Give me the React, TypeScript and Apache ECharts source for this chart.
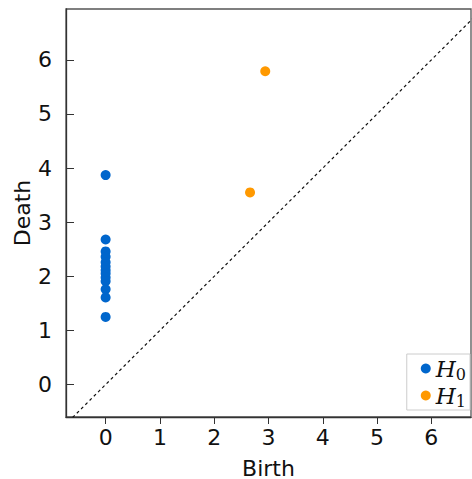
import React, { useEffect, useRef } from "react";
import * as echarts from "echarts";

const h0Births = [0, 0, 0, 0, 0, 0, 0, 0, 0, 0, 0, 0, 0];
const h0Deaths = [3.87, 2.68, 2.46, 2.36, 2.26, 2.18, 2.11, 2.05, 1.98, 1.91, 1.76, 1.61, 1.25];
const h1Births = [2.66, 2.94];
const h1Deaths = [3.55, 5.79];
const tickValues = [0, 1, 2, 3, 4, 5, 6];
const diagonal = [-1, 8];

const FONT = "DejaVu Sans";

export default function App() {
  const ref = useRef<HTMLDivElement>(null);
  useEffect(() => {
    if (!ref.current) return;
    const chart = echarts.init(ref.current, null, { renderer: "svg" });
    const axisCommon = {
      type: "value" as const,
      splitLine: { show: false },
      axisLine: { show: true, onZero: false, lineStyle: { color: "#333", width: 1.3 } },
    };
    chart.setOption({
      animation: false,
      backgroundColor: "#fff",
      grid: {
        left: 66, top: 9, right: 1, bottom: 62,
        outerBoundsMode: "none",
        containLabel: false,
        show: true, borderColor: "#555", borderWidth: 1.3,
      },
      legend: {
        right: 2,
        bottom: 69,
        orient: "vertical",
        itemWidth: 10,
        itemHeight: 10,
        itemGap: 2,
        padding: [3, 4, 1, 14],
        borderColor: "#ccc",
        borderWidth: 1,
        backgroundColor: "#fff",
        icon: "circle",
        data: ["H0", "H1"],
        formatter: (name: string) => `{h|H}{s|${name.slice(1)}}`,
        textStyle: {
          rich: {
            h: { fontFamily: "DejaVu Serif", fontStyle: "italic", fontSize: 23, color: "#111" },
            s: { fontFamily: "DejaVu Serif", fontSize: 16, color: "#111", padding: [11, 0, 0, 0] },
          },
        },
      },
      xAxis: {
        ...axisCommon,
        min: -0.73,
        max: 6.73,
        name: "Birth",
        nameLocation: "middle",
        nameGap: 40,
        nameTextStyle: { fontFamily: FONT, fontSize: 22, color: "#111" },
        axisTick: { show: true, inside: false, length: 7, customValues: tickValues, lineStyle: { color: "#333" } },
        axisLabel: { customValues: tickValues, fontFamily: FONT, fontSize: 22, color: "#111", margin: 9 },
      },
      yAxis: {
        ...axisCommon,
        min: -0.6,
        max: 6.94,
        name: "Death",
        nameLocation: "middle",
        nameMoveOverlap: false,
        nameGap: 33,
        nameTextStyle: { fontFamily: FONT, fontSize: 22, color: "#111" },
        axisTick: { show: true, inside: true, length: 8, customValues: tickValues, lineStyle: { color: "#333" } },
        axisLabel: { customValues: tickValues, fontFamily: FONT, fontSize: 22, color: "#111", margin: 14 },
      },
      series: [
        {
          type: "line",
          data: diagonal.map((v) => [v, v]),
          showSymbol: false,
          silent: true,
          lineStyle: { color: "#111", width: 1.2, type: [3, 3] },
          clip: true,
        },
        {
          name: "H0",
          type: "scatter",
          symbolSize: 10,
          itemStyle: { color: "#0066cc", opacity: 1 },
          data: h0Births.map((b, i) => [b, h0Deaths[i]]),
        },
        {
          name: "H1",
          type: "scatter",
          symbolSize: 10,
          itemStyle: { color: "#ff9900", opacity: 1 },
          data: h1Births.map((b, i) => [b, h1Deaths[i]]),
        },
      ],
    });
    return () => chart.dispose();
  }, []);
  return <div ref={ref} style={{ width: 472, height: 479, position: "absolute", left: 0, top: 0 }} />;
}
